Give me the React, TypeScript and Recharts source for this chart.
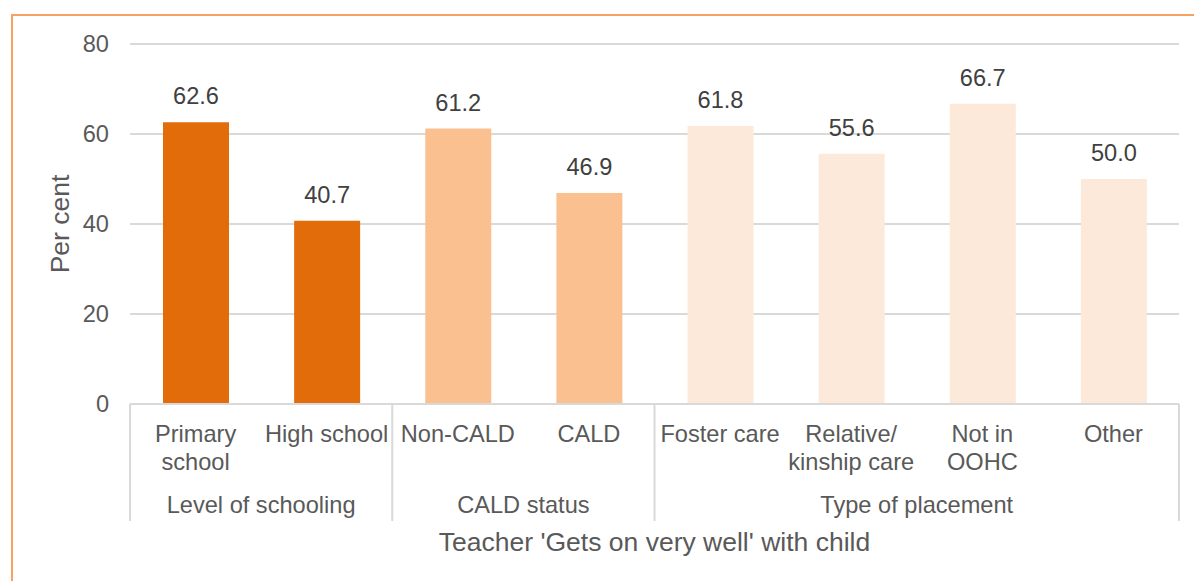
import React from "react";
import { BarChart, Bar, Cell, XAxis, YAxis, CartesianGrid, LabelList } from "recharts";

const categories = [
  "Primary school", "High school", "Non-CALD", "CALD",
  "Foster care", "Relative/ kinship care", "Not in OOHC", "Other",
];
// how each label wraps onto lines
const categoryLines = [
  ["Primary", "school"], ["High school"], ["Non-CALD"], ["CALD"],
  ["Foster care"], ["Relative/", "kinship care"], ["Not in", "OOHC"], ["Other"],
];
const values = [62.6, 40.7, 61.2, 46.9, 61.8, 55.6, 66.7, 50.0];
const groups = ["Level of schooling", "CALD status", "Type of placement"];
const groupOf = [0, 0, 1, 1, 2, 2, 2, 2];
const groupColors = ["#E36C0A", "#FAC090", "#FDE9D9"];
const yTicks = [0, 20, 40, 60, 80];

const data = categories.map((c, i) => ({ name: c, value: values[i], group: groupOf[i] }));

const FONT = "'Liberation Sans', Arial, sans-serif";
const GRID = "#D9D9D9";
const TEXT = "#595959";

function CategoryTick(props: any) {
  const { x, y, payload } = props;
  const i: number = payload.index;
  const half: number = payload.offset || 65.5;
  const band = half * 2;
  const lines = categoryLines[i];
  const g = groupOf[i];
  const first = i === 0 || groupOf[i - 1] !== g;
  const last = i === categories.length - 1;
  const count = groupOf.filter((v) => v === g).length;
  return (
    <g>
      {lines.map((l, k) => (
        <text key={k} x={x} y={y + 38 + k * 28} textAnchor="middle" fill={TEXT}
          fontSize={23.6} fontFamily={FONT}>{l}</text>
      ))}
      {first && (
        <>
          <line x1={x - half} x2={x - half} y1={y} y2={y + 117} stroke={GRID} strokeWidth={2} />
          <text x={x - half + (count * band) / 2} y={y + 109} textAnchor="middle" fill={TEXT}
            fontSize={23.6} fontFamily={FONT}>{groups[g]}</text>
        </>
      )}
      {last && (
        <line x1={x + half} x2={x + half} y1={y} y2={y + 117} stroke={GRID} strokeWidth={2} />
      )}
    </g>
  );
}

function YTitle(props: any) {
  const { viewBox } = props;
  const cx = viewBox.x + 60;
  const cy = viewBox.y + viewBox.height / 2;
  return (
    <text x={cx} y={cy} transform={`rotate(-90 ${cx} ${cy})`} textAnchor="middle"
      dominantBaseline="central" fill={TEXT} fontSize={26.5} fontFamily={FONT}>
      Per cent
    </text>
  );
}

export default function App() {
  return (
    <div style={{ position: "absolute", left: 0, top: 0, width: 1194, height: 581, overflow: "hidden", background: "#fff" }}>
      <div style={{
        position: "absolute", left: 11, top: 14, width: 1300, height: 700,
        borderLeft: "2px solid #F8A262", borderTop: "2px solid #F8A262", boxSizing: "border-box",
      }} />
      <div style={{ position: "absolute", left: 0, top: 0 }}>
        <BarChart width={1194} height={581} data={data}
          margin={{ top: 44, right: 15, left: 0, bottom: 0 }}>
          <CartesianGrid vertical={false} stroke={GRID} strokeWidth={2} />
          <XAxis dataKey="name" height={177} interval={0} tickLine={false} tickSize={0} tickMargin={0}
            axisLine={{ stroke: GRID, strokeWidth: 2 }} tick={<CategoryTick />}
            label={{ value: "Teacher 'Gets on very well' with child", position: "insideBottom", offset: 30,
              fill: TEXT, fontSize: 26.5, fontFamily: FONT }} />
          <YAxis domain={[0, 80]} ticks={yTicks} width={130} axisLine={false} tickLine={false}
            tickSize={0} tickMargin={21} interval={0}
            tick={{ fill: TEXT, fontSize: 23.6, fontFamily: FONT }}
            label={<YTitle />} />
          <Bar dataKey="value" barSize={66} isAnimationActive={false}>
            {data.map((d, i) => (
              <Cell key={i} fill={groupColors[d.group]} />
            ))}
            <LabelList dataKey="value" position="top" offset={18}
              formatter={(v: any) => Number(v).toFixed(1)}
              style={{ fill: "#404040", fontSize: 23.6, fontFamily: FONT }} />
          </Bar>
        </BarChart>
      </div>
    </div>
  );
}
